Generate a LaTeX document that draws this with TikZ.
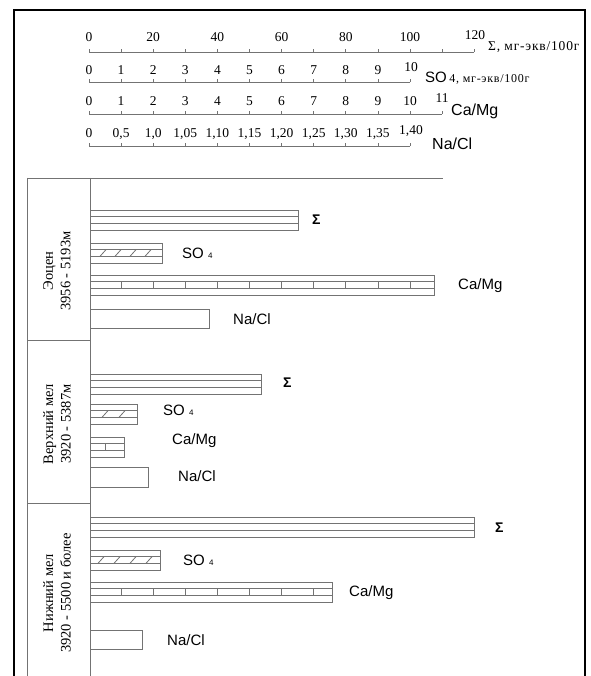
\documentclass[tikz,border=0pt]{standalone}
\usepackage{fontspec}
\setmainfont{Liberation Serif}
\newfontfamily\arialf{Liberation Sans}
\newfontfamily\unitf[LetterSpace=6]{Liberation Serif}
\tikzset{
  frame/.style={line width=2.8pt, draw=black},
  gline/.style={draw=black!55, line width=0.8pt},
  num/.style={font=\fontsize{13.5}{13.5}\selectfont, anchor=base, inner sep=0pt},
  unitlab/.style={anchor=west, inner sep=0pt},
  barlab/.style={font=\arialf\fontsize{15}{15}\selectfont, anchor=west, inner sep=0pt},
  toplab/.style={font=\arialf\fontsize{16}{16}\selectfont, anchor=west, inner sep=0pt},
  sigmalab/.style={font=\arialf\fontsize{14}{14}\selectfont\bfseries, anchor=west, inner sep=0pt},
  sectlab/.style={font=\fontsize{14.5}{17.5}\selectfont, rotate=90, align=center, inner sep=0pt},
}
% #1 top y, #2 right x
\newcommand\stripebox[2]{%
  \draw[gline] (90,#1) rectangle (#2,#1+20);
  \draw[gline] (90,#1+6.67) -- (#2,#1+6.67) (90,#1+13.33) -- (#2,#1+13.33);}
\newcommand\ticksin[2]{% #1 top y, #2 list of x
  \foreach \t in {#2} \draw[gline] (\t,#1+6.67) -- (\t,#1+13.33);}
\newcommand\slashin[2]{%
  \foreach \t in {#2} \draw[gline] (\t,#1+13.33) -- (\t+6,#1+6.67);}
\begin{document}
\begin{tikzpicture}[x=1pt,y=-1pt]
\useasboundingbox (0,0) rectangle (590,676);
\fill[white] (0,0) rectangle (590,676);
% frame
\draw[frame] (14,676) -- (14,10) -- (585,10) -- (585,676);

% ---- scales ----
% Sigma
\draw[gline] (89,52) -- (474,52);
\foreach \k in {0,...,12} \draw[gline] (89+32.1*\k,52) -- (89+32.1*\k,49);
\foreach \v [count=\i from 0] in {0,20,40,60,80,100}
  \node[num] (s\i) at (89+64.2*\i,42) {\v};
\node[num] (s6) at (475,39.5) {120};
\node[unitlab, font=\unitf\fontsize{13.5}{13.5}\selectfont] (su) at (488,47) {Σ, мг-экв/100г};
% SO4
\draw[gline] (89,82) -- (410,82);
\foreach \k in {0,...,10} \draw[gline] (89+32.1*\k,82) -- (89+32.1*\k,79);
\foreach \v in {0,...,9}
  \node[num] (o\v) at (89+32.1*\v,75) {\v};
\node[num] (o10) at (411,72) {10};
\node[unitlab] (ou) at (425,78) {{\arialf\fontsize{15}{15}\selectfont SO} {\unitf\fontsize{12}{12}\selectfont 4, мг-экв/100г}};
% Ca/Mg
\draw[gline] (89,114) -- (442,114);
\foreach \k in {0,...,11} \draw[gline] (89+32.1*\k,114) -- (89+32.1*\k,111);
\foreach \v in {0,...,10}
  \node[num] (c\v) at (89+32.1*\v,106) {\v};
\node[num] (c11) at (442,103) {11};
\node[toplab] (cu) at (451,111) {Ca/Mg};
% Na/Cl
\draw[gline] (89,146) -- (410,146);
\foreach \k in {0,...,10} \draw[gline] (89+32.1*\k,146) -- (89+32.1*\k,143);
\foreach \v [count=\i from 0] in {0,{0,5},{1,0},{1,05},{1,10},{1,15},{1,20},{1,25},{1,30},{1,35}}
  \node[num] (n\i) at (89+32.1*\i,138) {\v};
\node[num] (n10) at (411,135) {1,40};
\node[toplab] (nu) at (432,144) {Na/Cl};

% ---- table frame ----
\draw[gline] (27,178) -- (443,178);
\draw[gline] (27,178) -- (27,676);
\draw[gline] (90,178) -- (90,676);
\draw[gline] (27,340) -- (90,340);
\draw[gline] (27,503) -- (90,503);

\node[sectlab] (t1) at (57,271) {Эоцен\\3956 - 5193м};
\node[sectlab] (t2) at (57,424) {Верхний мел\\3920 - 5387м};
\node[sectlab] (t3) at (57,593) {Нижний мел\\3920 - 5500 и более};

% ---- section 1 ----
\stripebox{210}{298}
\stripebox{243}{162} \slashin{243}{100,115,130,145}
\stripebox{275}{434} \ticksin{275}{121.1,153.2,185.3,217.4,249.5,281.6,313.7,345.8,377.9,410}
\draw[gline] (90,309) rectangle (209,328);
\node[sigmalab] (l1a) at (312,220) {Σ};
\node[barlab] (l1b) at (182,253) {SO {\fontsize{8}{8}\selectfont 4}};
\node[barlab] (l1c) at (458,286) {Ca/Mg};
\node[barlab] (l1d) at (233,319) {Na/Cl};

% ---- section 2 ----
\stripebox{374}{261}
\stripebox{404}{137} \slashin{404}{102,119}
\stripebox{437}{124} \ticksin{437}{105}
\draw[gline] (90,467) rectangle (148,487);
\node[sigmalab] (l2a) at (283,383) {Σ};
\node[barlab] (l2b) at (163,410) {SO {\fontsize{8}{8}\selectfont 4}};
\node[barlab] (l2c) at (172,441) {Ca/Mg};
\node[barlab] (l2d) at (178,476) {Na/Cl};

% ---- section 3 ----
\stripebox{517}{474}
\stripebox{550}{160} \slashin{550}{98,114,130,146}
\stripebox{582}{332} \ticksin{582}{121.1,153.2,185.3,217.4,249.5,281.6,313.7}
\draw[gline] (90,630) rectangle (142,649);
\node[sigmalab] (l3a) at (495,528) {Σ};
\node[barlab] (l3b) at (183,560) {SO {\fontsize{8}{8}\selectfont 4}};
\node[barlab] (l3c) at (349,593) {Ca/Mg};
\node[barlab] (l3d) at (167,640) {Na/Cl};
\end{tikzpicture}
\end{document}
